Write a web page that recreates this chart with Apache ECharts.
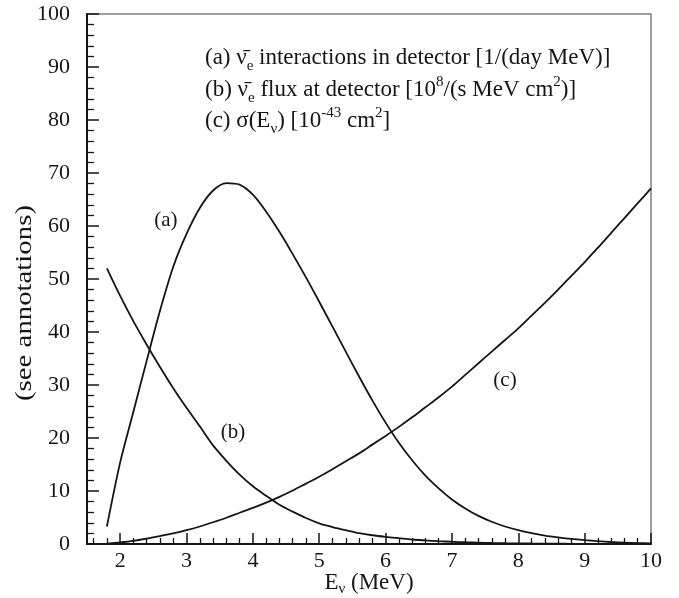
<!DOCTYPE html>
<html>
<head>
<meta charset="utf-8">
<script src="https://cdn.jsdelivr.net/npm/echarts@6/dist/echarts.min.js"></script>
<style>html,body{margin:0;padding:0;background:#fff}#c{width:679px;height:598px}</style>
</head>
<body>
<div id="c"></div>
<script>
// ---- data ----
const xMajorTicks = [2, 3, 4, 5, 6, 7, 8, 9, 10];
const yMajorTicks = [0, 10, 20, 30, 40, 50, 60, 70, 80, 90, 100];

// energies (MeV) at which the curves were read
const energies = [1.8, 2.0, 2.2, 2.4, 2.6, 2.8, 3.0, 3.2, 3.4, 3.6, 3.8, 4.0, 4.2, 4.4, 4.6, 4.8, 5.0, 5.2, 5.4, 5.6,
  5.8, 6.0, 6.2, 6.4, 6.6, 6.8, 7.0, 7.2, 7.4, 7.6, 7.8, 8.0, 8.2, 8.4, 8.6, 8.8, 9.0, 9.2, 9.4, 9.6, 9.8, 10.0];
// (a) interactions in detector
const curveA = [3.3, 15.4, 25.0, 34.6, 44.0, 52.3, 58.5, 63.4, 66.7, 68.1, 67.8, 65.9, 62.7, 58.9, 54.7, 50.3, 45.7,
  41.0, 36.3, 31.6, 27.1, 22.9, 19.1, 15.8, 12.9, 10.5, 8.4, 6.7, 5.3, 4.2, 3.3, 2.6, 2.05, 1.6, 1.25, 0.95, 0.72,
  0.53, 0.38, 0.27, 0.18, 0.12];
// (b) flux at detector
const curveB = [52.0, 46.8, 42.0, 37.6, 33.4, 29.4, 25.7, 22.2, 18.6, 15.7, 13.1, 10.9, 9.1, 7.4, 6.1, 4.9, 3.9,
  3.2, 2.6, 2.05, 1.65, 1.35, 1.1, 0.85, 0.68, 0.53, 0.42, 0.33, 0.26, 0.2, 0.15, 0.12, 0.09, 0.07, 0.05, 0.04,
  0.03, 0.02, 0.02, 0.01, 0.01, 0.01];
// (c) cross section
const curveC = [0.05, 0.3, 0.6, 1.0, 1.5, 2.0, 2.6, 3.3, 4.1, 4.95, 5.9, 6.8, 7.8, 8.9, 10.1, 11.4, 12.7, 14.1,
  15.6, 17.1, 18.75, 20.4, 22.1, 23.9, 25.8, 27.7, 29.7, 31.9, 34.1, 36.3, 38.5, 40.7, 43.1, 45.5, 48.0, 50.6,
  53.2, 55.9, 58.7, 61.5, 64.3, 67.1];

const curveLabels = [['(a)', 2.69, 61.1], ['(b)', 3.70, 21.1], ['(c)', 7.80, 30.9]];
const legendLines = [
  '{n|(a) \u03BD\u0304}{sub|e}{n| interactions in detector [1/(day MeV)]}',
  '{n|(b) \u03BD\u0304}{sub|e}{n| flux at detector [10}{sup|8}{n|/(s MeV cm}{sup|2}{n|)]}',
  '{n|(c) \u03C3(E}{sub|\u03BD}{n|) [10}{sup|-43}{n| cm}{sup|2}{n|]}'
];
const yTitle = '(see annotations)';

// minor x ticks every 0.2
const xMinorTicks = [];
for (let i = 8; i <= 50; i++) { const v = +(i * 0.2).toFixed(1); if (v > 1.5 && Math.abs(v - Math.round(v)) > 1e-6) xMinorTicks.push(v); }

const FONT = '"Liberation Serif", "Times New Roman", serif';
const INK = '#151515';
const gridPos = { left: 87, right: 28, top: 14, bottom: 54, outerBoundsMode: 'none', containLabel: false };

const chart = echarts.init(document.getElementById('c'), null, { renderer: 'canvas' });

const pairs = (ys) => energies.map((e, i) => [e, ys[i]]);
const lineSeries = (name, ys) => ({
  name, type: 'line', data: pairs(ys), xAxisIndex: 0, yAxisIndex: 0, showSymbol: false, smooth: 0.3,
  lineStyle: { color: INK, width: 1.8 }, silent: true, animation: false
});

chart.setOption({
  animation: false,
  backgroundColor: '#fff',
  grid: [
    Object.assign({ show: true, borderColor: '#808080', borderWidth: 1.5, backgroundColor: 'transparent' }, gridPos),
    Object.assign({ show: false }, gridPos)
  ],
  xAxis: [
    {
      gridIndex: 0, type: 'value', min: 1.5, max: 10,
      axisLine: { show: true, onZero: false, lineStyle: { color: INK, width: 2 } },
      axisTick: { show: true, inside: true, length: 11, customValues: xMajorTicks, lineStyle: { color: INK, width: 1.5 } },
      axisLabel: { show: true, customValues: xMajorTicks, fontSize: 22, fontFamily: FONT, color: INK, margin: 6 },
      splitLine: { show: false },
      name: '{n|E}{sub|\u03BD}{n| (MeV)}', nameLocation: 'middle', nameGap: 25, nameMoveOverlap: false,
      nameTextStyle: {
        rich: {
          n: { fontSize: 23, fontFamily: FONT, color: INK, lineHeight: 28 },
          sub: { fontSize: 15, fontFamily: FONT, color: INK, lineHeight: 14, verticalAlign: 'bottom' }
        }
      }
    },
    {
      gridIndex: 1, type: 'value', min: 1.5, max: 10,
      axisLine: { show: false },
      axisTick: { show: true, inside: true, length: 6, customValues: xMinorTicks, lineStyle: { color: INK, width: 1.3 } },
      axisLabel: { show: false }, splitLine: { show: false }
    }
  ],
  yAxis: [
    {
      gridIndex: 0, type: 'value', min: 0, max: 100, interval: 10,
      axisLine: { show: true, onZero: false, lineStyle: { color: INK, width: 2 } },
      axisTick: { show: true, inside: true, length: 12, lineStyle: { color: INK, width: 1.5 } },
      minorTick: { show: true, splitNumber: 5, length: 7, lineStyle: { color: INK, width: 1.3 } },
      axisLabel: { fontSize: 22, fontFamily: FONT, color: INK, margin: 17 },
      splitLine: { show: false }
    },
    { gridIndex: 1, type: 'value', min: 0, max: 100, show: false }
  ],
  series: [
    lineSeries('a', curveA),
    lineSeries('b', curveB),
    lineSeries('c', curveC)
  ]
});

const richStyles = {
  n: { fontSize: 23, fontFamily: FONT, fill: INK, lineHeight: 31 },
  sub: { fontSize: 15, fontFamily: FONT, fill: INK, lineHeight: 13, verticalAlign: 'bottom' },
  sup: { fontSize: 15, fontFamily: FONT, fill: INK, lineHeight: 15, verticalAlign: 'top' }
};
const legendCenters = [58, 90, 121];
const graphics = legendLines.map((t, i) => ({
  type: 'text', x: 205, y: legendCenters[i], silent: true,
  style: { text: t, rich: richStyles, verticalAlign: 'middle', align: 'left' }
}));
curveLabels.forEach(([txt, x, y]) => {
  const p = chart.convertToPixel({ xAxisIndex: 0, yAxisIndex: 0 }, [x, y]);
  graphics.push({
    type: 'text', x: p[0], y: p[1], silent: true,
    style: { text: txt, fontSize: 21, fontFamily: FONT, fill: INK, align: 'center', verticalAlign: 'middle' }
  });
});
graphics.push({
  type: 'text', x: 25, y: 303, rotation: Math.PI / 2, scaleX: 1.2, silent: true,
  style: { text: yTitle, font: '24px "Liberation Serif", serif', fill: INK, align: 'center', verticalAlign: 'middle' }
});
chart.setOption({ graphic: graphics });
</script>
</body>
</html>
